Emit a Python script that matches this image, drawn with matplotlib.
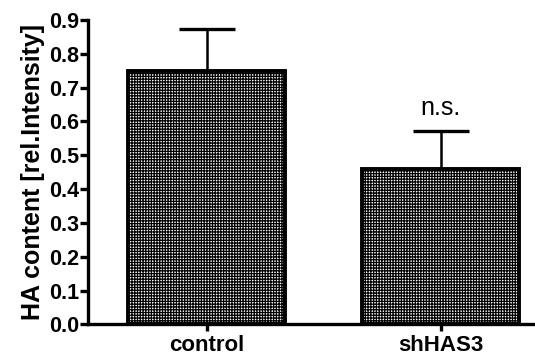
import matplotlib
matplotlib.use('Agg')
import matplotlib.pyplot as plt
import numpy as np

plt.rcParams['font.family'] = ['Liberation Sans', 'DejaVu Sans']
plt.rcParams['hatch.linewidth'] = 0.9

groups = ['control', 'shHAS3']
means = [0.75, 0.458]
errors = [0.125, 0.115]
yticks = [0.0, 0.1, 0.2, 0.3, 0.4, 0.5, 0.6, 0.7, 0.8, 0.9]

fig = plt.figure(figsize=(5.35, 3.58), dpi=100)
ax = fig.add_axes([0.1645, 0.094, 0.86, 0.85])

x = np.arange(len(groups))
ax.bar(x, means, width=0.67, color='white', edgecolor='black', linewidth=2.8,
       hatch='++++++', zorder=2)
ax.errorbar(x, means, yerr=[np.zeros(len(means)), errors], fmt='none',
            ecolor='black', elinewidth=1.8, capsize=20, capthick=2.4, zorder=1)

# подпись над второй колонкой
ax.text(x[1], means[1] + errors[1] + 0.03, 'n.s.', ha='center', va='bottom', fontsize=18)

ax.set_xlim(-0.507, 1.46)
ax.set_ylim(0, 0.9)
ax.set_yticks(yticks)
ax.set_yticklabels(['%.1f' % v for v in yticks], fontsize=15.5, fontweight='bold')
ax.set_xticks(x)
ax.set_xticklabels(groups, fontsize=16, fontweight='bold')
ax.set_ylabel('HA content [rel.Intensity]', fontsize=18, fontweight='bold', labelpad=3)

for s in ['top', 'right']:
    ax.spines[s].set_visible(False)
for s in ['left', 'bottom']:
    ax.spines[s].set_linewidth(2.4)
ax.tick_params(axis='y', width=2.4, length=6, pad=0.5)
ax.tick_params(axis='x', width=2.4, length=5, pad=3)

fig.savefig('out.png', dpi=100)
